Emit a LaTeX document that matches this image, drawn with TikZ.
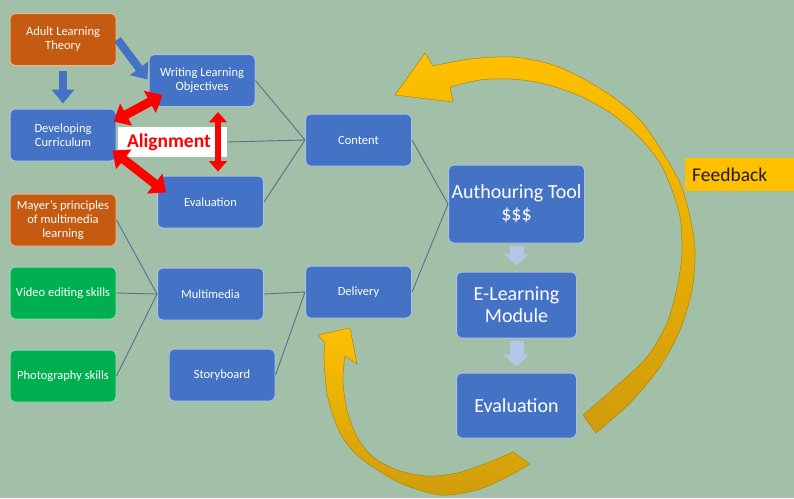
\documentclass[tikz,border=0pt]{standalone}
\usepackage{fontspec}
\setmainfont{Carlito}
\usetikzlibrary{arrows.meta,calc}

\definecolor{bgsage}{HTML}{A2BFA7}
\definecolor{boxblue}{HTML}{4472C4}
\definecolor{boxorange}{HTML}{C55A11}
\definecolor{boxgreen}{HTML}{00B050}
\definecolor{linkgray}{HTML}{56728F}
\definecolor{goldlt}{HTML}{FFC000}
\definecolor{golddk}{HTML}{CF9C0C}
\definecolor{paleblue}{HTML}{B4C7E7}

\begin{document}
\begin{tikzpicture}[x=1pt,y=-1pt,
    box/.style={rectangle,rounded corners=5pt,draw=white!55!boxblue,line width=1pt,fill=boxblue,
        text=white,align=center,minimum width=106pt,minimum height=52pt,inner sep=2pt,
        font=\fontsize{12.5}{14}\selectfont},
    orangebox/.style={box,fill=boxorange,draw=white!55!boxorange},
    greenbox/.style={box,fill=boxgreen,draw=white!55!boxgreen},
    bigbox/.style={box,minimum width=120pt,minimum height=66pt,font=\fontsize{20}{22}\selectfont},
    link/.style={draw=linkgray,line width=0.9pt},
    blockarrow/.style={draw=boxblue,line width=8pt,-{Triangle[width=22pt,length=14pt]}},
    alignarrow/.style={draw=red,line width=#1,
        {Triangle[width=0pt 2.7,length=0pt 1.6]}-{Triangle[width=0pt 2.7,length=0pt 1.6]}},
    alignarrow/.default=9pt,
    stackarrow/.style={draw=paleblue,line width=14pt,-{Triangle[width=25pt,length=12pt]}},
    loop/.style={draw=golddk!85!black,line width=0.5pt,top color=goldlt,bottom color=golddk}]

    \useasboundingbox (0,0) rectangle (794,498);
    \fill[bgsage] (0,0) rectangle (794,498);

    % nodes
    \node (adult) at (63,39.5) [orangebox] {Adult Learning\\Theory};
    \node (wlo) at (202,80.5) [box] {Writing Learning\\Objectives};
    \node (devcur) at (63,135) [box] {Developing\\Curriculum};
    \node (align) at (172.5,142) [fill=white,minimum height=30pt,text width=91pt,inner xsep=9pt,
        inner ysep=0pt,align=left,text=red,font=\fontsize{19.5}{22}\selectfont\bfseries] {Alignment};
    \node (evalsm) at (210.5,202) [box] {Evaluation};
    \node (content) at (358.5,140) [box] {Content};
    \node (mayer) at (63,220) [orangebox] {Mayer’s principles\\of multimedia\\learning};
    \node (video) at (63,293) [greenbox] {Video editing skills};
    \node (multi) at (210.5,294) [box] {Multimedia};
    \node (delivery) at (358.5,292) [box] {Delivery};
    \node (photo) at (63,376) [greenbox] {Photography skills};
    \node (story) at (222,375) [box] {Storyboard};
    \node (tool) at (516.5,204) [bigbox,minimum width=136pt,minimum height=78pt] {Authouring Tool\\\$\$\$};
    \node (module) at (516.5,305) [bigbox] {E-Learning\\Module};
    \node (evalbig) at (516.5,405.5) [bigbox,minimum height=65pt] {Evaluation};
    \node (feedback) at (685,174.5) [anchor=west,fill=goldlt,minimum height=33pt,text width=95pt,
        inner xsep=7pt,align=left,text=black!85!goldlt,font=\fontsize{19.5}{22}\selectfont] {Feedback};

    % paths
    \draw[link] (wlo.east) -- (content.west);
    \draw[link] (align.east) -- (content.west);
    \draw[link] (evalsm.east) -- (content.west);
    \draw[link] (content.east) -- (tool.west);
    \draw[link] (delivery.east) -- (tool.west);
    \draw[link] (mayer.east) -- (multi.west);
    \draw[link] (video.east) -- (multi.west);
    \draw[link] (photo.east) -- (multi.west);
    \draw[link] (multi.east) -- (delivery.west);
    \draw[link] (story.east) -- (delivery.west);

    \draw[blockarrow,shorten <=5pt,shorten >=5pt] (adult.south) -- (devcur.north); % theory -> curriculum
    \draw[blockarrow] ($(adult.east)+(1,0)$) -- ($(wlo.west)+(-1,-1)$); % theory -> objectives

    \draw[alignarrow] ($(devcur.north east)+(-3,13)$) -- ($(wlo.south west)+(14,-12)$);
    \draw[alignarrow] ($(devcur.south east)+(-4,-11)$) -- ($(evalsm.north west)+(9,17)$);
    \draw[alignarrow=6.5pt] ($(wlo.south)+(16,5)$) -- ($(evalsm.north)+(7.5,-4)$);

    \draw[stackarrow,shorten <=2pt,shorten >=6pt] (tool.south) -- (module.north);
    \draw[stackarrow,shorten <=2pt,shorten >=6pt] (module.south) -- (evalbig.north);

    % feedback loop, big arrow back to the top
    \path[loop] (395,95) -- (425,53) -- plot[smooth] coordinates {(433,66) (470,59) (513,57) (550,64)
        (580,77) (613,97) (640,120) (660,148) (680,183) (690,217) (695,250) (692,290) (680,330)
        (660,367) (630,403) (596,433)}
        -- plot[smooth] coordinates {(583,415) (620,383) (647,357) (667,323) (678,283) (682,250)
        (680,217) (672,190) (660,163) (640,138) (612,114) (580,96) (545,84) (512,79) (480,80) (450,87)}
        -- (453,102) -- cycle;
    % small arrow up to delivery
    \path[loop] (350,328) -- (318,335) -- plot[smooth] coordinates {(325,343) (324,360) (327,393)
        (333,415) (340,433) (352,450) (367,463) (400,483) (440,495) (477,490) (507,477) (530,464)}
        -- plot[smooth] coordinates {(513,452) (487,463) (457,473) (427,476) (397,470) (373,457)
        (357,437) (347,410) (343,383) (344,363) (345,356)}
        -- (357,364) -- cycle;
\end{tikzpicture}
\end{document}
